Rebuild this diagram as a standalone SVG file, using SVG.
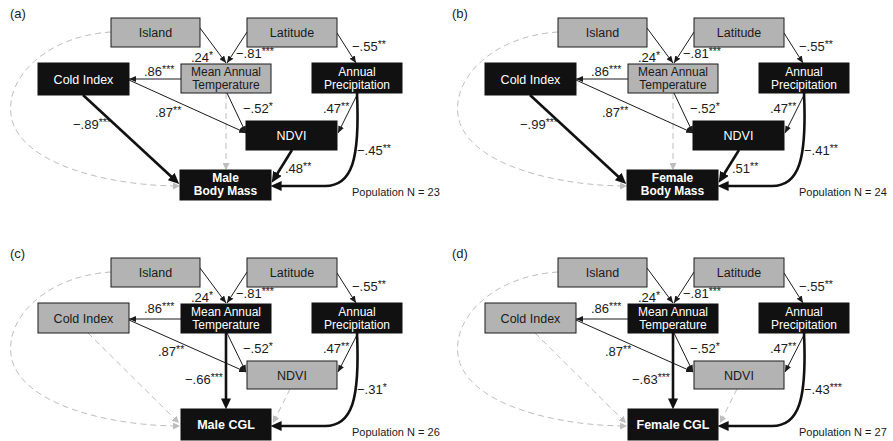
<svg xmlns="http://www.w3.org/2000/svg" width="893" height="441" viewBox="0 0 893 441">
<defs>
<style>
.g{fill:#b3b3b3;stroke:#1a1a1a;stroke-width:1}
.k{fill:#111;stroke:#111;stroke-width:1}
text{font-family:"Liberation Sans",Arial,sans-serif}
.t{font-size:12.5px;text-anchor:middle}
.t2{font-size:12px;text-anchor:middle}
.w{fill:#fff}
.d{fill:#1a1a1a}
.b{font-weight:bold}
.c{font-size:13px;fill:#1a1a1a}
.s{font-size:10.5px}
.p{font-size:11px;fill:#1a1a1a}
.thin{stroke:#1a1a1a;stroke-width:1;fill:none;marker-end:url(#m1)}
.thick{stroke:#111;stroke-width:2.6;fill:none;marker-end:url(#m2)}
.dash{stroke:#bdbdbd;stroke-width:1;stroke-dasharray:6 4;fill:none;marker-end:url(#m3)}
</style>
<marker id="m1" viewBox="0 0 10 10" refX="10" refY="5" markerWidth="7" markerHeight="6" markerUnits="userSpaceOnUse" orient="auto" preserveAspectRatio="none"><path d="M0,0 L10,5 L0,10 z" fill="#1a1a1a"/></marker>
<marker id="m2" viewBox="0 0 10 10" refX="6" refY="5" markerWidth="11" markerHeight="10" markerUnits="userSpaceOnUse" orient="auto" preserveAspectRatio="none"><path d="M0,0 L10,5 L0,10 z" fill="#111"/></marker>
<marker id="m3" viewBox="0 0 10 10" refX="10" refY="5" markerWidth="7" markerHeight="7" markerUnits="userSpaceOnUse" orient="auto" preserveAspectRatio="none"><path d="M0,0 L10,5 L0,10 z" fill="#bdbdbd"/></marker>
</defs>

<!-- Panel (a) -->
<g id="panel-a">
<text x="10" y="18" class="c">(a)</text>
<g id="a-connectors">
<path class="dash" d="M111,32 C45,36 2,80 12,120 C24,165 110,186 180,186"/>
<path class="dash" d="M226,93 L226,170"/>
<path class="thin" d="M200,28 L226,63"/>
<path class="thin" d="M247,32 L227,63"/>
<path class="thin" d="M337,33 L356,63"/>
<path class="thin" d="M181,79 L129,79"/>
<path class="thin" d="M129,80 L246,133"/>
<path class="thin" d="M227,93 L246,133"/>
<path class="thin" d="M358,93 L338,133"/>
<path class="thick" d="M292,150 L274,179"/>
<path class="thick" d="M357,93 C360,160 352,186 325,186 L275,186"/>
<path class="thick" d="M83,95 L176,181"/>
</g>
<g id="a-island"><rect class="g" x="111" y="18" width="89" height="29"/><text class="t d" x="155.5" y="37">Island</text></g>
<g id="a-latitude"><rect class="g" x="247" y="18" width="90" height="29"/><text class="t d" x="292" y="37">Latitude</text></g>
<g id="a-cold"><rect class="k" x="38" y="63" width="91" height="32"/><text class="t w" x="83.5" y="83.5">Cold Index</text></g>
<g id="a-mat"><rect class="g" x="181" y="64" width="90" height="29"/><text class="t2 d" x="226" y="75.5">Mean Annual</text><text class="t2 d" x="226" y="88.5">Temperature</text></g>
<g id="a-ap"><rect class="k" x="312" y="63" width="90" height="30"/><text class="t2 w" x="357" y="75.5">Annual</text><text class="t2 w" x="357" y="88.5">Precipitation</text></g>
<g id="a-ndvi"><rect class="k" x="246" y="121" width="91" height="29"/><text class="t w" x="291.5" y="140">NDVI</text></g>
<g id="a-body"><rect class="k" x="180" y="170" width="91" height="30"/><text class="t2 w b" x="225.5" y="181.5">Male</text><text class="t2 w b" x="225.5" y="194.5">Body Mass</text></g>
<g id="a-labels">
<text class="c" x="191" y="62">.24<tspan class="s" dy="-3">*</tspan></text>
<text class="c" x="236" y="58">−.81<tspan class="s" dy="-3">***</tspan></text>
<text class="c" x="352" y="51">−.55<tspan class="s" dy="-3">**</tspan></text>
<text class="c" x="144" y="76">.86<tspan class="s" dy="-3">***</tspan></text>
<text class="c" x="155" y="117">.87<tspan class="s" dy="-3">**</tspan></text>
<text class="c" x="73" y="129">−.89<tspan class="s" dy="-3">***</tspan></text>
<text class="c" x="243" y="113">−.52<tspan class="s" dy="-3">*</tspan></text>
<text class="c" x="323" y="113">.47<tspan class="s" dy="-3">**</tspan></text>
<text class="c" x="357" y="155">−.45<tspan class="s" dy="-3">**</tspan></text>
<text class="c" x="285" y="173">.48<tspan class="s" dy="-3">**</tspan></text>
<text class="p" x="352" y="196">Population N = 23</text>
</g>
</g>

<!-- Panel (b) -->
<g id="panel-b" transform="translate(447,0)">
<text x="5" y="18" class="c">(b)</text>
<g id="b-connectors">
<path class="dash" d="M111,32 C45,36 2,80 12,120 C24,165 110,186 180,186"/>
<path class="dash" d="M226,93 L226,170"/>
<path class="thin" d="M200,28 L226,63"/>
<path class="thin" d="M247,32 L227,63"/>
<path class="thin" d="M337,33 L356,63"/>
<path class="thin" d="M181,79 L129,79"/>
<path class="thin" d="M129,80 L246,133"/>
<path class="thin" d="M227,93 L246,133"/>
<path class="thin" d="M358,93 L338,133"/>
<path class="thick" d="M292,150 L274,179"/>
<path class="thick" d="M357,93 C360,160 352,186 325,186 L275,186"/>
<path class="thick" d="M83,95 L176,181"/>
</g>
<g id="b-island"><rect class="g" x="111" y="18" width="89" height="29"/><text class="t d" x="155.5" y="37">Island</text></g>
<g id="b-latitude"><rect class="g" x="247" y="18" width="90" height="29"/><text class="t d" x="292" y="37">Latitude</text></g>
<g id="b-cold"><rect class="k" x="38" y="63" width="91" height="32"/><text class="t w" x="83.5" y="83.5">Cold Index</text></g>
<g id="b-mat"><rect class="g" x="181" y="64" width="90" height="29"/><text class="t2 d" x="226" y="75.5">Mean Annual</text><text class="t2 d" x="226" y="88.5">Temperature</text></g>
<g id="b-ap"><rect class="k" x="312" y="63" width="90" height="30"/><text class="t2 w" x="357" y="75.5">Annual</text><text class="t2 w" x="357" y="88.5">Precipitation</text></g>
<g id="b-ndvi"><rect class="k" x="246" y="121" width="91" height="29"/><text class="t w" x="291.5" y="140">NDVI</text></g>
<g id="b-body"><rect class="k" x="180" y="170" width="91" height="30"/><text class="t2 w b" x="225.5" y="181.5">Female</text><text class="t2 w b" x="225.5" y="194.5">Body Mass</text></g>
<g id="b-labels">
<text class="c" x="191" y="62">.24<tspan class="s" dy="-3">*</tspan></text>
<text class="c" x="236" y="58">−.81<tspan class="s" dy="-3">***</tspan></text>
<text class="c" x="352" y="51">−.55<tspan class="s" dy="-3">**</tspan></text>
<text class="c" x="144" y="76">.86<tspan class="s" dy="-3">***</tspan></text>
<text class="c" x="155" y="117">.87<tspan class="s" dy="-3">**</tspan></text>
<text class="c" x="73" y="129">−.99<tspan class="s" dy="-3">***</tspan></text>
<text class="c" x="243" y="113">−.52<tspan class="s" dy="-3">*</tspan></text>
<text class="c" x="323" y="113">.47<tspan class="s" dy="-3">**</tspan></text>
<text class="c" x="357" y="155">−.41<tspan class="s" dy="-3">**</tspan></text>
<text class="c" x="285" y="173">.51<tspan class="s" dy="-3">**</tspan></text>
<text class="p" x="352" y="196">Population N = 24</text>
</g>
</g>

<!-- Panel (c) -->
<g id="panel-c" transform="translate(0,240)">
<text x="10" y="18" class="c">(c)</text>
<g id="c-connectors">
<path class="dash" d="M111,32 C45,36 2,80 12,120 C24,165 110,186 180,186"/>
<path class="dash" d="M88,93 L179,183"/>
<path class="dash" d="M290,149 L273,183"/>
<path class="thin" d="M200,28 L226,63"/>
<path class="thin" d="M247,32 L227,63"/>
<path class="thin" d="M337,33 L356,63"/>
<path class="thin" d="M181,79 L129,79"/>
<path class="thin" d="M129,80 L246,132"/>
<path class="thin" d="M227,93 L246,132"/>
<path class="thin" d="M358,93 L338,132"/>
<path class="thick" d="M226,93 L226,165"/>
<path class="thick" d="M357,93 C360,160 352,186 325,186 L275,186"/>
</g>
<g id="c-island"><rect class="g" x="111" y="18" width="89" height="29"/><text class="t d" x="155.5" y="37">Island</text></g>
<g id="c-latitude"><rect class="g" x="247" y="18" width="90" height="29"/><text class="t d" x="292" y="37">Latitude</text></g>
<g id="c-cold"><rect class="g" x="38" y="63" width="91" height="30"/><text class="t d" x="83.5" y="82.5">Cold Index</text></g>
<g id="c-mat"><rect class="k" x="181" y="64" width="90" height="29"/><text class="t2 w" x="226" y="75.5">Mean Annual</text><text class="t2 w" x="226" y="88.5">Temperature</text></g>
<g id="c-ap"><rect class="k" x="312" y="63" width="90" height="30"/><text class="t2 w" x="357" y="75.5">Annual</text><text class="t2 w" x="357" y="88.5">Precipitation</text></g>
<g id="c-ndvi"><rect class="g" x="247" y="121" width="90" height="28"/><text class="t d" x="292" y="139.5">NDVI</text></g>
<g id="c-cgl"><rect class="k" x="181" y="169" width="90" height="31"/><text class="t w b" x="226" y="189">Male CGL</text></g>
<g id="c-labels">
<text class="c" x="191" y="62">.24<tspan class="s" dy="-3">*</tspan></text>
<text class="c" x="236" y="58">−.81<tspan class="s" dy="-3">***</tspan></text>
<text class="c" x="352" y="51">−.55<tspan class="s" dy="-3">**</tspan></text>
<text class="c" x="144" y="73">.86<tspan class="s" dy="-3">***</tspan></text>
<text class="c" x="158" y="116">.87<tspan class="s" dy="-3">**</tspan></text>
<text class="c" x="185" y="144">−.66<tspan class="s" dy="-3">***</tspan></text>
<text class="c" x="243" y="113">−.52<tspan class="s" dy="-3">*</tspan></text>
<text class="c" x="323" y="113">.47<tspan class="s" dy="-3">**</tspan></text>
<text class="c" x="357" y="154">−.31<tspan class="s" dy="-3">*</tspan></text>
<text class="p" x="352" y="196">Population N = 26</text>
</g>
</g>

<!-- Panel (d) -->
<g id="panel-d" transform="translate(447,240)">
<text x="5" y="18" class="c">(d)</text>
<g id="d-connectors">
<path class="dash" d="M111,32 C45,36 2,80 12,120 C24,165 110,186 180,186"/>
<path class="dash" d="M88,93 L179,183"/>
<path class="dash" d="M290,149 L273,183"/>
<path class="thin" d="M200,28 L226,63"/>
<path class="thin" d="M247,32 L227,63"/>
<path class="thin" d="M337,33 L356,63"/>
<path class="thin" d="M181,79 L129,79"/>
<path class="thin" d="M129,80 L246,132"/>
<path class="thin" d="M227,93 L246,132"/>
<path class="thin" d="M358,93 L338,132"/>
<path class="thick" d="M226,93 L226,165"/>
<path class="thick" d="M357,93 C360,160 352,186 325,186 L275,186"/>
</g>
<g id="d-island"><rect class="g" x="111" y="18" width="89" height="29"/><text class="t d" x="155.5" y="37">Island</text></g>
<g id="d-latitude"><rect class="g" x="247" y="18" width="90" height="29"/><text class="t d" x="292" y="37">Latitude</text></g>
<g id="d-cold"><rect class="g" x="38" y="63" width="91" height="30"/><text class="t d" x="83.5" y="82.5">Cold Index</text></g>
<g id="d-mat"><rect class="k" x="181" y="64" width="90" height="29"/><text class="t2 w" x="226" y="75.5">Mean Annual</text><text class="t2 w" x="226" y="88.5">Temperature</text></g>
<g id="d-ap"><rect class="k" x="312" y="63" width="90" height="30"/><text class="t2 w" x="357" y="75.5">Annual</text><text class="t2 w" x="357" y="88.5">Precipitation</text></g>
<g id="d-ndvi"><rect class="g" x="247" y="121" width="90" height="28"/><text class="t d" x="292" y="139.5">NDVI</text></g>
<g id="d-cgl"><rect class="k" x="181" y="169" width="90" height="31"/><text class="t w b" x="226" y="189">Female CGL</text></g>
<g id="d-labels">
<text class="c" x="191" y="62">.24<tspan class="s" dy="-3">*</tspan></text>
<text class="c" x="236" y="58">−.81<tspan class="s" dy="-3">***</tspan></text>
<text class="c" x="352" y="51">−.55<tspan class="s" dy="-3">**</tspan></text>
<text class="c" x="144" y="73">.86<tspan class="s" dy="-3">***</tspan></text>
<text class="c" x="158" y="116">.87<tspan class="s" dy="-3">**</tspan></text>
<text class="c" x="185" y="144">−.63<tspan class="s" dy="-3">***</tspan></text>
<text class="c" x="243" y="113">−.52<tspan class="s" dy="-3">*</tspan></text>
<text class="c" x="323" y="113">.47<tspan class="s" dy="-3">**</tspan></text>
<text class="c" x="357" y="154">−.43<tspan class="s" dy="-3">***</tspan></text>
<text class="p" x="352" y="196">Population N = 27</text>
</g>
</g>
</svg>
